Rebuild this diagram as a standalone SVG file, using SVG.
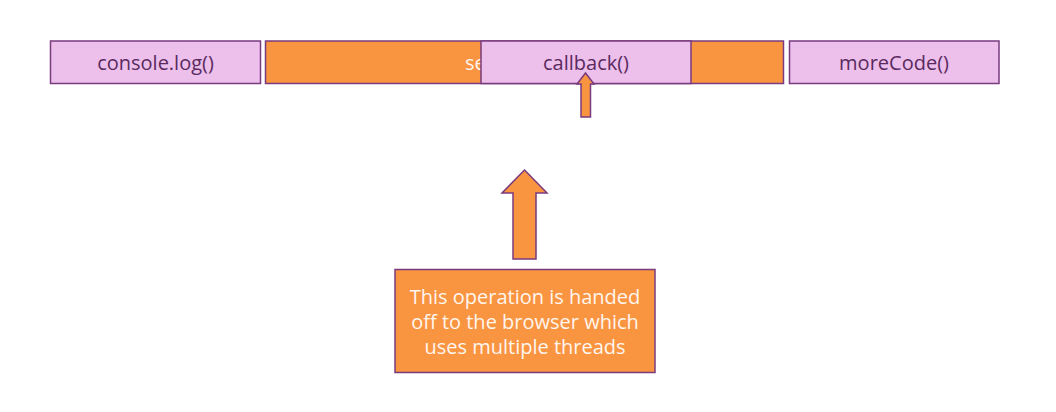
<svg xmlns="http://www.w3.org/2000/svg" width="1056" height="412" viewBox="0 0 1056 412">
<style>
.pink{fill:#ecc0eb;stroke:#7a3b7f;stroke-width:1.5}
.orange{fill:#f99441;stroke:#7a3b7f;stroke-width:1.5}
.lbl{font-family:"Open Sans",Lato,sans-serif;font-size:20px;fill:#5a2a5f;text-anchor:middle}
.wt{font-family:"Open Sans",Lato,sans-serif;font-size:20px;fill:#fff6ee;text-anchor:middle}
</style>
<rect width="1056" height="412" fill="#ffffff"/>
<g id="console-log">
<rect class="pink" x="50.5" y="41" width="210" height="42.5"/>
<text class="lbl" x="155.5" y="69.5">console.log()</text>
</g>
<g id="setTimeout">
<rect class="orange" x="265.5" y="41" width="518" height="42.5"/>
<text class="wt" x="465" y="69.5" style="text-anchor:start">se</text>
</g>
<g id="callback">
<rect class="pink" x="481" y="41" width="210" height="42.5"/>
<text class="lbl" x="586" y="69.5">callback()</text>
</g>
<g id="moreCode">
<rect class="pink" x="789.5" y="41" width="209.5" height="42.5"/>
<text class="lbl" x="894" y="69.5">moreCode()</text>
</g>
<g id="connectors">
<path class="orange" d="M585.5,73 L594,84 L590.5,84 L590.5,117 L581,117 L581,84 L577,84 Z"/>
<path class="orange" d="M524.5,170 L547,193 L536,193 L536,259 L513,259 L513,193 L502,193 Z"/>
</g>
<g id="note">
<rect class="orange" x="395" y="269.5" width="260" height="103"/>
<text class="wt" x="525" y="304">This operation is handed</text>
<text class="wt" x="525" y="329">off to the browser which</text>
<text class="wt" x="525" y="354">uses multiple threads</text>
</g>
</svg>
